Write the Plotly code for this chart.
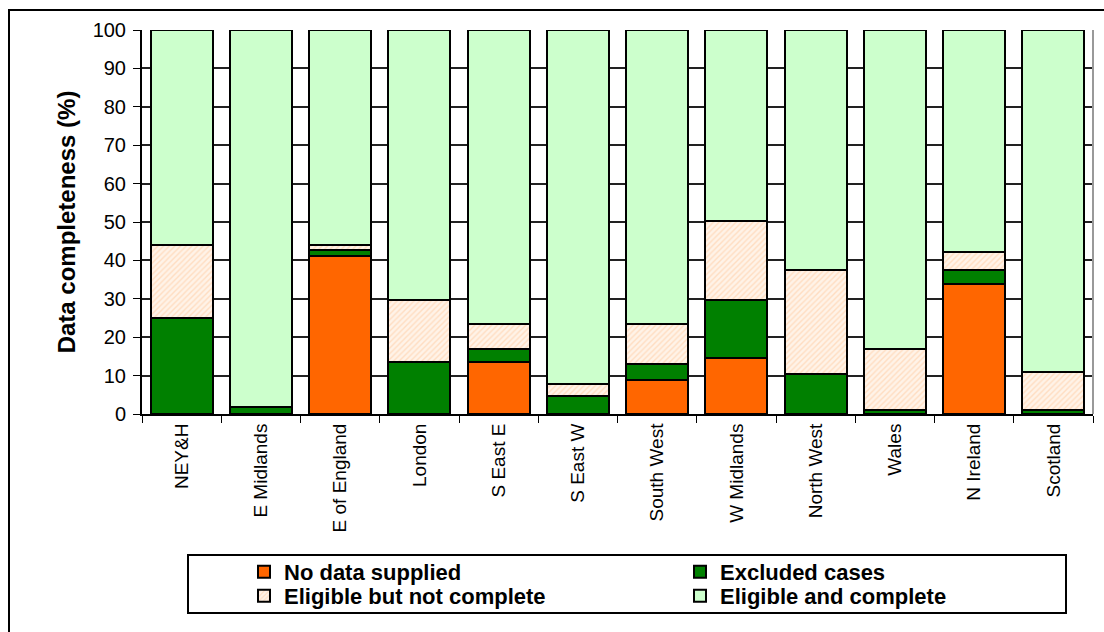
import plotly.graph_objects as go

regions = ["NEY&H", "E Midlands", "E of England", "London", "S East E", "S East W",
           "South West", "W Midlands", "North West", "Wales", "N Ireland", "Scotland"]

no_data = [0, 0, 41.1, 0, 13.5, 0, 8.9, 14.6, 0, 0, 33.9, 0]
excluded = [25.0, 1.7, 1.6, 13.6, 3.3, 4.7, 4.1, 15.1, 10.4, 1.0, 3.6, 1.0]
not_complete = [18.9, 0, 1.2, 16.1, 6.6, 3.1, 10.4, 20.6, 27.1, 15.8, 4.8, 10.0]
complete = [round(100 - a - b - c, 1) for a, b, c in zip(no_data, excluded, not_complete)]

FONT = "Liberation Sans, Arial, sans-serif"
W, H = 1104, 632
L, R, T, B = 142, 11, 30, 218
PW, PH = W - L - R, H - T - B


def px(x):
    return (x - L) / PW


def py(y):
    return (H - B - y) / PH


outline = dict(color="black", width=2)

fig = go.Figure()
fig.add_bar(x=regions, y=no_data, name="No data supplied", legend="legend",
            marker=dict(color="#FF6600", line=outline))
fig.add_bar(x=regions, y=excluded, name="Excluded cases", legend="legend",
            marker=dict(color="#008000", line=outline))
fig.add_bar(x=regions, y=not_complete, name="Eligible but not complete", legend="legend2",
            marker=dict(color="#FFF3E8", line=outline,
                        pattern=dict(shape="/", fgcolor="#FFC79A", bgcolor="#FFF3E8",
                                     size=4, solidity=0.35)))
fig.add_bar(x=regions, y=complete, name="Eligible and complete", legend="legend2",
            marker=dict(color="#CCFFCC", line=outline))

legend_style = dict(
    orientation="h",
    xanchor="left", yanchor="middle",
    entrywidth=391, entrywidthmode="pixels",
    font=dict(family=FONT, size=22, color="black", weight="bold"),
    bgcolor="rgba(0,0,0,0)",
    traceorder="normal",
    itemwidth=30,
)

fig.update_layout(
    barmode="stack",
    bargap=0.22,
    width=W, height=H,
    margin=dict(l=L, r=R, t=T, b=B, autoexpand=False),
    paper_bgcolor="white",
    plot_bgcolor="white",
    font=dict(family=FONT, color="black"),
    legend=dict(legend_style, x=px(244), y=py(572)),
    legend2=dict(legend_style, x=px(244), y=py(596)),
    xaxis=dict(
        showline=True, linecolor="black", linewidth=2,
        ticks="outside", tickson="boundaries", ticklen=7, tickcolor="black",
        tickangle=-90, tickfont=dict(family=FONT, size=19, color="black"),
        mirror=False,
    ),
    yaxis=dict(
        range=[0, 100], dtick=10,
        showline=True, linecolor="black", linewidth=2,
        ticks="outside", ticklen=7, tickcolor="black",
        tickfont=dict(family=FONT, size=20, color="black"),
        ticklabelstandoff=3,
        showgrid=True, gridcolor="#222222", gridwidth=2,
        zeroline=False,
        title=dict(text="<b>Data completeness (%)</b>",
                   font=dict(family=FONT, size=24, color="black"), standoff=10),
    ),
    shapes=[
        # outer chart frame
        dict(type="rect", xref="paper", yref="paper",
             x0=px(9), x1=px(1140), y0=py(10), y1=py(680),
             line=dict(color="black", width=2), layer="below"),
        # right wall of the plot area
        dict(type="line", xref="paper", yref="paper",
             x0=1, x1=1, y0=0, y1=1, line=dict(color="#999999", width=2)),
        # legend frame
        dict(type="rect", xref="paper", yref="paper",
             x0=px(188), x1=px(1066), y0=py(555), y1=py(613),
             line=dict(color="black", width=2)),
    ],
)

fig.write_html("out.html")
